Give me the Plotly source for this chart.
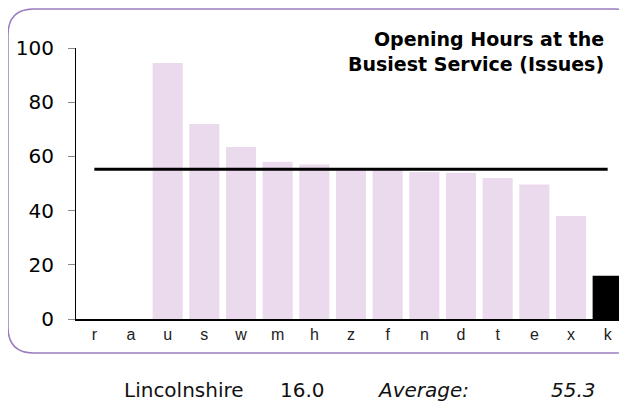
import plotly.graph_objects as go

# service codes along the x axis, values in hours
categories = ['r', 'a', 'u', 's', 'w', 'm', 'h', 'z', 'f', 'n', 'd', 't', 'e', 'x', 'k']
hours = [0, 0, 94.5, 72.0, 63.5, 58.0, 57.0, 55.5, 55.0, 54.2, 54.0, 52.0, 49.6, 38.0, 16.0]
y_ticks = [0, 20, 40, 60, 80, 100]

highlight_code = 'k'
highlight_name = 'Lincolnshire'
average = 55.3

title_lines = ['Opening Hours at the', 'Busiest Service (Issues)']

# page body has an 8px margin, so the figure is 8px smaller than the window
OFF = 8
W, H = 627 - OFF, 401 - OFF
ML, MR, MT, MB = 68, 1, 40, 82
PW, PH = W - ML - MR, H - MT - MB


def px_x(x):
    # screen pixel -> paper coordinate
    return (x - OFF - ML) / PW


def px_y(y):
    return (H - MB - (y - OFF)) / PH


bar_colors = ['black' if c == highlight_code else '#ebdaed' for c in categories]
highlight_value = hours[categories.index(highlight_code)]

bars = go.Bar(
    x=categories,
    y=hours,
    marker=dict(color=bar_colors, line=dict(width=0)),
    width=0.82,
    hoverinfo='x+y',
)

avg_line = go.Scatter(
    x=[categories[0], categories[-1]],
    y=[average, average],
    mode='lines',
    line=dict(color='black', width=3),
    hoverinfo='skip',
)

# rounded frame around the chart, its right side runs off the page
x0, x1 = px_x(8), px_x(640)
y0, y1 = px_y(353), px_y(9)
rx, ry = 26 / PW, 26 / PH
frame = (f'M {x0 + rx} {y1} L {x1 - rx} {y1} Q {x1} {y1} {x1} {y1 - ry} '
         f'L {x1} {y0 + ry} Q {x1} {y0} {x1 - rx} {y0} '
         f'L {x0 + rx} {y0} Q {x0} {y0} {x0} {y0 + ry} '
         f'L {x0} {y1 - ry} Q {x0} {y1} {x0 + rx} {y1} Z')

text_font = dict(family='Verdana, DejaVu Sans', size=20, color='#111')
annotations = [
    dict(text='<b>' + '<br>'.join(title_lines) + '</b>', x=px_x(606), y=px_y(26),
         xanchor='right', yanchor='top', align='right', showarrow=False,
         font=dict(family='Verdana, DejaVu Sans', size=19, color='black')),
    dict(text=highlight_name, x=px_x(122), y=px_y(389.5), xanchor='left', yanchor='middle',
         showarrow=False, font=text_font),
    dict(text=f'{highlight_value:.1f}', x=px_x(278), y=px_y(389.5), xanchor='left', yanchor='middle',
         showarrow=False, font=text_font),
    dict(text='<i>Average:</i>', x=px_x(375), y=px_y(389.5), xanchor='left', yanchor='middle',
         showarrow=False, font=text_font),
    dict(text=f'<i>{average:.1f}</i>', x=px_x(598), y=px_y(389.5), xanchor='right', yanchor='middle',
         showarrow=False, font=text_font),
]
for a in annotations:
    a['xref'] = 'paper'
    a['yref'] = 'paper'

layout = go.Layout(
    width=W,
    height=H,
    margin=dict(l=ML, r=MR, t=MT, b=MB),
    paper_bgcolor='white',
    plot_bgcolor='white',
    showlegend=False,
    xaxis=dict(
        showline=True,
        linecolor='black',
        linewidth=1.5,
        ticks='',
        showgrid=False,
        zeroline=False,
        tickfont=dict(family='Liberation Sans Narrow, Arial Narrow, Liberation Sans', size=16, color='#222'),
        range=[-0.5, len(categories) - 0.5],
        fixedrange=True,
    ),
    yaxis=dict(
        range=[0, 100],
        tickvals=y_ticks,
        showline=True,
        linecolor='black',
        linewidth=1.2,
        ticks='outside',
        ticklen=7,
        tickcolor='#888',
        showgrid=False,
        zeroline=False,
        tickfont=dict(family='Verdana, DejaVu Sans', size=20, color='black'),
        ticklabelstandoff=10,
        fixedrange=True,
    ),
    shapes=[dict(type='path', path=frame, xref='paper', yref='paper',
                 line=dict(color='#9a7cc0', width=1.5), layer='below')],
    annotations=annotations,
)

fig = go.Figure(data=[bars, avg_line], layout=layout)
fig.write_html("out.html")
